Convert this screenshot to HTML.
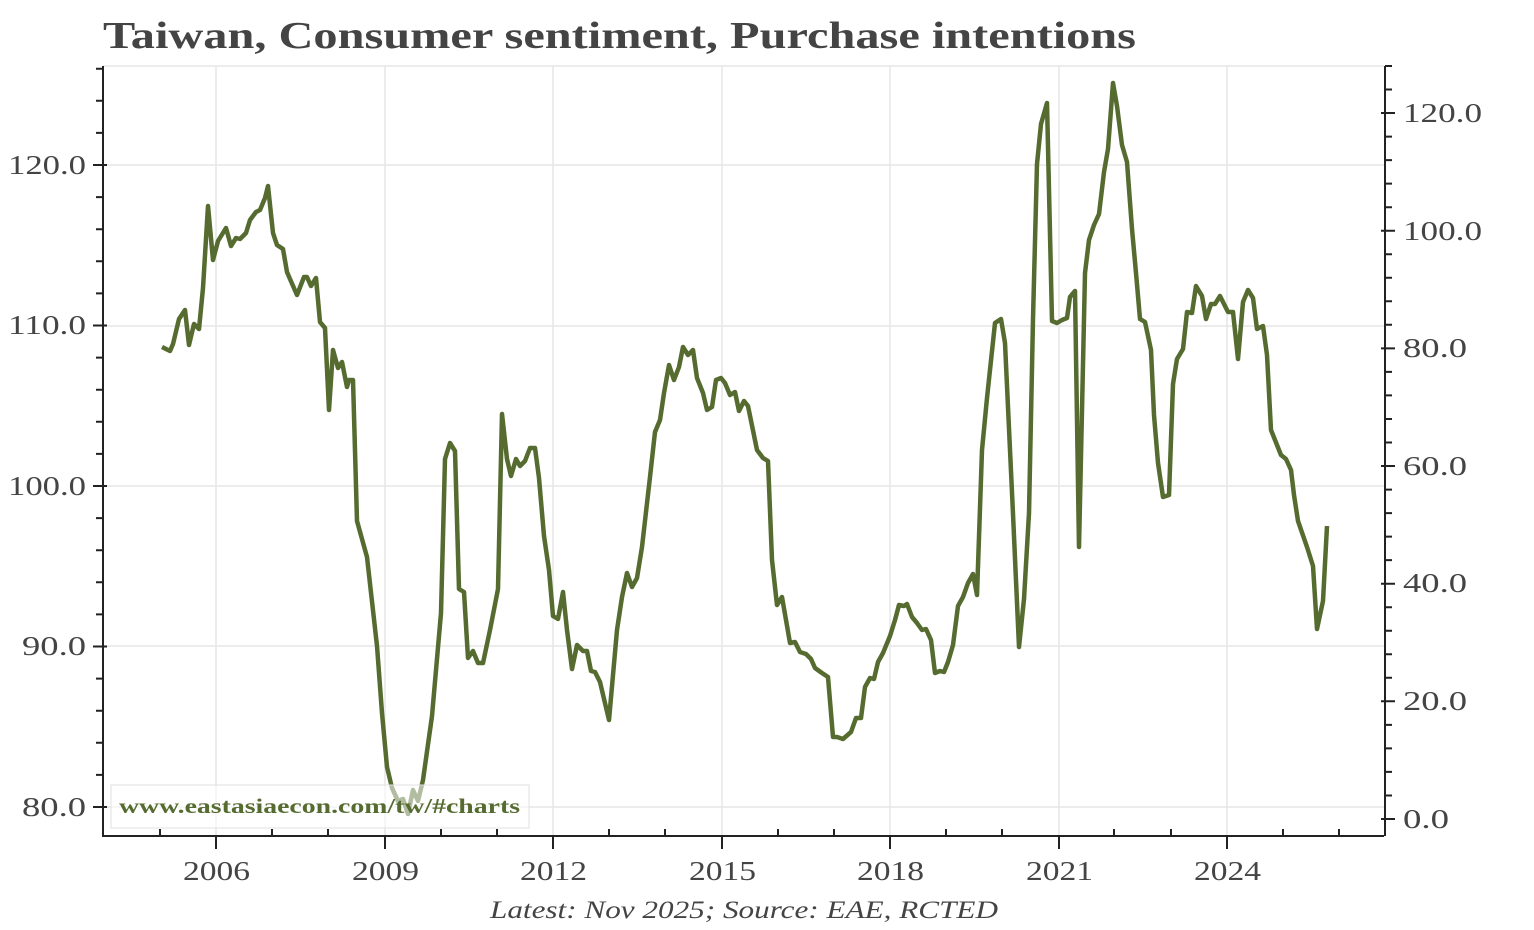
<!DOCTYPE html>
<html><head><meta charset="utf-8"><style>
html,body{margin:0;padding:0;background:#fff;}
svg{display:block;}
text{font-family:"Liberation Serif",serif;fill:#444;}
</style></head><body>
<svg width="1534" height="930" viewBox="0 0 1534 930" xmlns="http://www.w3.org/2000/svg">
<text x="103" y="48" font-size="38" font-weight="bold" textLength="1033" lengthAdjust="spacingAndGlyphs">Taiwan, Consumer sentiment, Purchase intentions</text>
<g stroke="#e6e6e6" stroke-width="1.5" fill="none">
<path d="M103 165H1384M103 326H1384M103 486H1384M103 646H1384M103 807H1384M103 66H1384"/>
<path d="M216 66V836M385 66V836M553 66V836M722 66V836M890 66V836M1059 66V836M1227 66V836"/>
</g>
<polyline fill="none" stroke="#556b2f" stroke-width="4.5" stroke-linejoin="round" points="162,347 170,351 173,344 179,319 185,310 189,345 194,324 199,329 203,288 208,206 213,260 218,241 226,228 231,246 236,238 240,239 246,233 250,220 256,212 260,210 265,198 268,186 273,233 277,245 283,249 287,272 290,279 297,295 304,277 307,277 311,286 316,278 320,322 325,328 329,410 333,350 338,368 342,362 347,387 349,380 353,380 357,521 367,557 377,646 382,713 387,767 392,788 398,801 403,799 408,814 413,790 418,801 423,780 432,716 441,613 445,459 450,443 455,451 459,589 464,592 468,658 473,651 478,663 483,663 490,630 498,589 502,414 507,459 511,476 516,459 520,466 525,461 530,448 535,448 539,478 544,536 549,570 553,616 558,619 563,592 567,630 572,669 577,645 583,651 587,651 591,671 595,672 600,682 609,720 617,630 622,597 627,573 632,587 637,578 642,547 650,477 655,432 660,420 664,393 669,365 674,380 679,367 683,347 688,355 693,350 697,378 703,393 707,410 712,407 716,380 721,378 725,383 730,395 735,392 739,411 744,401 748,406 757,450 763,458 768,461 772,560 777,605 782,597 790,643 795,642 800,652 806,654 811,659 815,668 822,673 828,677 833,737 837,737 843,739 851,732 856,718 861,718 865,687 870,678 874,679 878,662 883,653 890,636 895,620 899,605 904,606 907,604 912,617 917,623 922,630 926,629 931,640 935,673 940,671 944,672 948,662 953,645 958,606 963,597 968,583 973,574 977,595 982,450 987,398 995,323 1001,319 1005,343 1013,514 1019,647 1024,599 1029,513 1033,319 1037,164 1041,124 1047,103 1052,321 1057,323 1062,320 1067,318 1070,297 1075,291 1079,547 1085,273 1089,240 1094,225 1099,214 1104,172 1108,149 1113,83 1117,106 1122,145 1127,162 1132,229 1136,273 1140,319 1145,322 1151,350 1154,415 1158,463 1163,497 1169,495 1173,384 1177,359 1183,349 1187,312 1192,313 1196,286 1202,296 1206,319 1211,304 1215,304 1220,296 1228,312 1233,312 1238,359 1243,302 1248,290 1253,298 1257,329 1263,326 1267,355 1271,430 1275,440 1281,455 1286,459 1291,470 1294,495 1298,521 1307,547 1313,566 1317,629 1323,601 1327,526"/>
<rect x="111" y="785" width="418" height="43" fill="#fff" fill-opacity="0.55" stroke="#e0e0e0" stroke-width="1"/>
<text x="119" y="813" font-size="21" font-weight="bold" textLength="401" lengthAdjust="spacingAndGlyphs" style="fill:#556b2f">www.eastasiaecon.com/tw/#charts</text>
<g stroke="#222" stroke-width="2" fill="none">
<path d="M103 66V836H1384M1385 66V836"/>
<path d="M93 807H107M93 646.5H107M93 486H107M93 325.5H107M93 165H107"/>
<path d="M96 774.9H103M96 742.8H103M96 710.7H103M96 678.6H103M96 614.4H103M96 582.3H103M96 550.2H103M96 518.1H103M96 453.9H103M96 421.8H103M96 389.7H103M96 357.6H103M96 293.4H103M96 261.3H103M96 229.2H103M96 197.1H103M96 132.9H103M96 100.8H103M96 68.7H103"/>
<path d="M1381 819H1395M1381 701.3H1395M1381 583.7H1395M1381 466H1395M1381 348.4H1395M1381 230.7H1395M1381 113H1395"/>
<path d="M1385 795.5H1392M1385 771.9H1392M1385 748.4H1392M1385 724.9H1392M1385 677.8H1392M1385 654.3H1392M1385 630.7H1392M1385 607.2H1392M1385 560.1H1392M1385 536.6H1392M1385 513.1H1392M1385 489.6H1392M1385 442.5H1392M1385 419H1392M1385 395.4H1392M1385 371.9H1392M1385 324.8H1392M1385 301.3H1392M1385 277.8H1392M1385 254.2H1392M1385 207.2H1392M1385 183.6H1392M1385 160.1H1392M1385 136.6H1392M1385 89.5H1392M1385 66H1392"/>
<path d="M216 836V849M385 836V849M553 836V849M722 836V849M890 836V849M1059 836V849M1227 836V849"/>
<path d="M160 836V829M272 836V829M328 836V829M441 836V829M497 836V829M609 836V829M665 836V829M778 836V829M834 836V829M946 836V829M1002 836V829M1114 836V829M1171 836V829M1283 836V829M1339 836V829"/>
</g>
<g font-size="27">
<text x="22" y="816" textLength="64" lengthAdjust="spacingAndGlyphs">80.0</text>
<text x="22" y="655" textLength="64" lengthAdjust="spacingAndGlyphs">90.0</text>
<text x="8" y="495" textLength="78" lengthAdjust="spacingAndGlyphs">100.0</text>
<text x="8" y="334" textLength="78" lengthAdjust="spacingAndGlyphs">110.0</text>
<text x="8" y="174" textLength="78" lengthAdjust="spacingAndGlyphs">120.0</text>
</g>
<g font-size="27">
<text x="1403" y="828" textLength="46" lengthAdjust="spacingAndGlyphs">0.0</text>
<text x="1403" y="710" textLength="64" lengthAdjust="spacingAndGlyphs">20.0</text>
<text x="1403" y="592" textLength="64" lengthAdjust="spacingAndGlyphs">40.0</text>
<text x="1403" y="475" textLength="64" lengthAdjust="spacingAndGlyphs">60.0</text>
<text x="1403" y="357" textLength="64" lengthAdjust="spacingAndGlyphs">80.0</text>
<text x="1403" y="240" textLength="79" lengthAdjust="spacingAndGlyphs">100.0</text>
<text x="1403" y="122" textLength="79" lengthAdjust="spacingAndGlyphs">120.0</text>
</g>
<g font-size="27">
<text x="183" y="880" textLength="67" lengthAdjust="spacingAndGlyphs">2006</text>
<text x="352" y="880" textLength="67" lengthAdjust="spacingAndGlyphs">2009</text>
<text x="520" y="880" textLength="67" lengthAdjust="spacingAndGlyphs">2012</text>
<text x="689" y="880" textLength="67" lengthAdjust="spacingAndGlyphs">2015</text>
<text x="857" y="880" textLength="67" lengthAdjust="spacingAndGlyphs">2018</text>
<text x="1026" y="880" textLength="67" lengthAdjust="spacingAndGlyphs">2021</text>
<text x="1194" y="880" textLength="67" lengthAdjust="spacingAndGlyphs">2024</text>
</g>
<text x="490" y="918" font-size="25" font-style="italic" textLength="508" lengthAdjust="spacingAndGlyphs">Latest: Nov 2025; Source: EAE, RCTED</text>
</svg>
</body></html>
